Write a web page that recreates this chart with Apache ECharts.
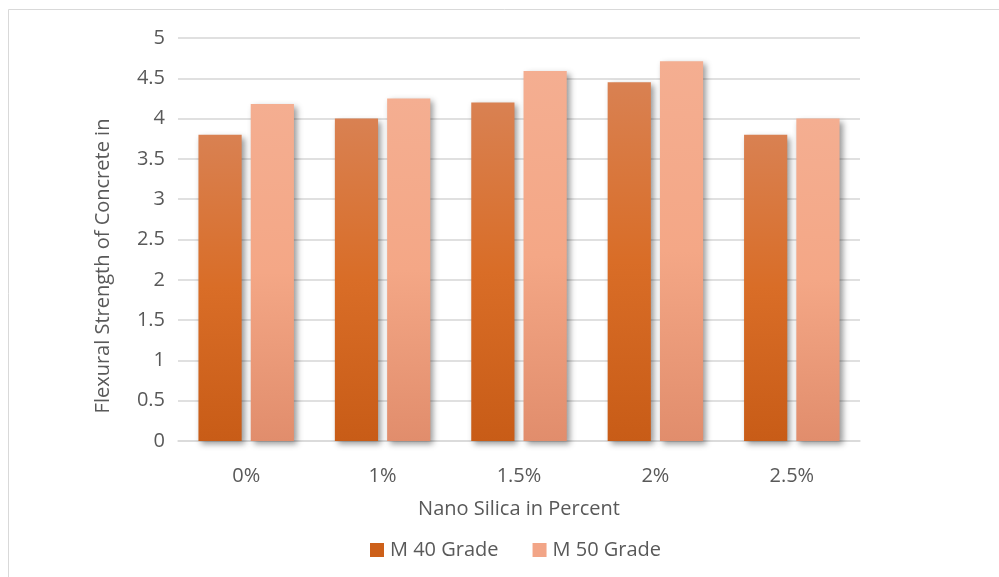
<!DOCTYPE html>
<html>
<head>
<meta charset="utf-8">
<script src="https://cdn.jsdelivr.net/npm/echarts@6/dist/echarts.min.js"></script>
<style>html,body{margin:0;padding:0;background:#fff;}#c{width:999px;height:577px;}</style>
</head>
<body>
<div id="c"></div>
<script>
var categories = ['0%', '1%', '1.5%', '2%', '2.5%'];
var m40 = [3.8, 4.0, 4.2, 4.45, 3.8];
var m50 = [4.18, 4.25, 4.59, 4.71, 4.0];
var seriesNames = ['M 40 Grade', 'M 50 Grade'];
var yTitle = 'Flexural Strength of Concrete in';
var xTitle = 'Nano Silica in Percent';

var FONT = 'Open Sans';
var TXT = '#595959';
var FS = 20;

function grad(top, mid, bot) {
  return new echarts.graphic.LinearGradient(0, 0, 0, 1, [
    {offset: 0, color: top}, {offset: 0.5, color: mid}, {offset: 1, color: bot}
  ], false);
}
var shadow = {shadowBlur: 6, shadowColor: 'rgba(0,0,0,0.4)', shadowOffsetX: 3, shadowOffsetY: 3};

var chart = echarts.init(document.getElementById('c'), null, {renderer: 'canvas'});
chart.setOption({
  animation: false,
  backgroundColor: '#fff',
  textStyle: {fontFamily: FONT, color: TXT},
  grid: {left: 178, right: 139, top: 38, bottom: 136, containLabel: false},
  legend: {
    top: 535, left: 365, itemWidth: 14, itemHeight: 14, itemGap: 34, icon: 'rect',
    textStyle: {fontFamily: FONT, fontSize: FS, color: TXT, padding: [0, 0, 0, 1]},
    data: [
      {name: seriesNames[0], itemStyle: {color: '#cd6019'}},
      {name: seriesNames[1], itemStyle: {color: '#f2a587'}}
    ]
  },
  graphic: [
    {type: 'rect', shape: {x: 8.5, y: 9.5, width: 1100, height: 700}, style: {fill: 'none', stroke: '#d9d9d9', lineWidth: 1}, z: -10, silent: true},
    {type: 'text', x: 103, y: 266, rotation: Math.PI / 2, style: {text: yTitle, fontFamily: FONT, fontSize: FS, fill: TXT, textAlign: 'center', textVerticalAlign: 'middle'}}
  ],
  xAxis: {
    type: 'category', data: categories,
    name: xTitle, nameLocation: 'middle', nameGap: 58,
    nameTextStyle: {fontFamily: FONT, fontSize: FS, color: TXT},
    axisLine: {show: true, lineStyle: {color: '#d9d9d9', width: 1.5}},
    axisTick: {show: false},
    axisLabel: {fontFamily: FONT, fontSize: FS, color: TXT, margin: 25}
  },
  yAxis: {
    type: 'value', min: 0, max: 5, interval: 0.5,
    axisLine: {show: false}, axisTick: {show: false},
    axisLabel: {fontFamily: FONT, fontSize: FS, color: TXT, margin: 13},
    splitLine: {lineStyle: {color: '#d6d6d6', width: 1.5}}
  },
  series: [
    {name: seriesNames[0], type: 'bar', data: m40, barGap: '21%', barCategoryGap: '30%',
     itemStyle: Object.assign({color: grad('#d98152', '#d96d27', '#c85c17')}, shadow)},
    {name: seriesNames[1], type: 'bar', data: m50,
     itemStyle: Object.assign({color: grad('#f4ae91', '#f4a786', '#e18d6c')}, shadow)}
  ]
});
</script>
</body>
</html>
